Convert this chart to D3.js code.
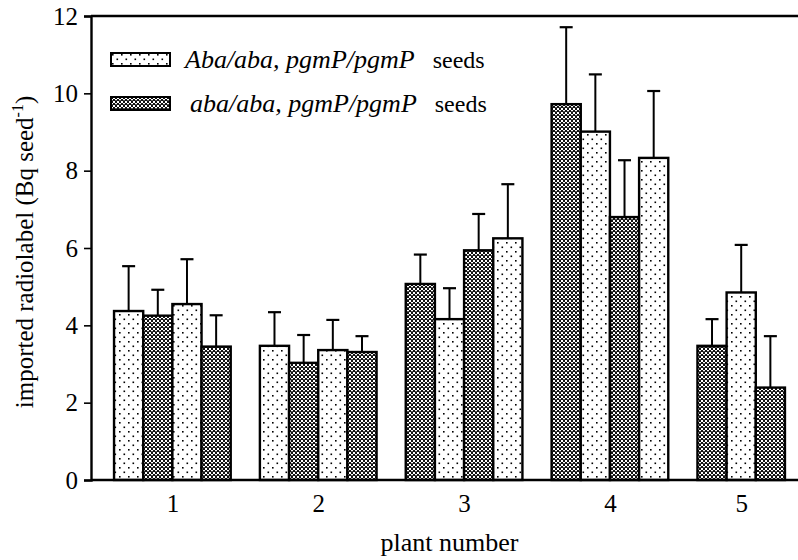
<!DOCTYPE html>
<html>
<head>
<meta charset="utf-8">
<script src="https://cdn.jsdelivr.net/npm/d3@7"></script>
<style>
    body { margin: 0; background: #fff; }
    svg { display: block; }
    svg text { font-family: "Liberation Serif", "Times New Roman", "DejaVu Serif", serif; }
</style>
</head>
<body>
<script>
// plant numbers on the x axis
const plants = ['1', '2', '3', '4', '5'];
const yTicks = [0, 2, 4, 6, 8, 10, 12];

// one entry per bar, left to right
const barPlant = ['1', '1', '1', '1', '2', '2', '2', '2', '3', '3', '3', '3', '4', '4', '4', '4', '5', '5', '5'];
const barGenotype = ['Aba', 'aba', 'Aba', 'aba', 'Aba', 'aba', 'Aba', 'aba',
    'aba', 'Aba', 'aba', 'Aba', 'aba', 'Aba', 'aba', 'Aba', 'aba', 'Aba', 'aba'];
const barMean = [4.37, 4.25, 4.55, 3.45, 3.47, 3.03, 3.36, 3.31,
    5.07, 4.16, 5.94, 6.25, 9.72, 9.01, 6.80, 8.33, 3.47, 4.85, 2.39];
const barTop = [5.53, 4.92, 5.71, 4.26, 4.34, 3.75, 4.14, 3.72,
    5.83, 4.96, 6.88, 7.65, 11.71, 10.49, 8.27, 10.06, 4.16, 6.08, 3.72];

const legendLabels = ['Aba/aba, pgmP/pgmP', 'aba/aba, pgmP/pgmP'];
const legendKeys = ['Aba', 'aba'];

const W = 798, H = 560;
const margin = {left: 91, top: 16, bottom: 80};
const plotH = H - margin.top - margin.bottom;

// each plant gets one slot per bar plus an empty slot as gap
const slotOf = [];
plants.forEach((p, pi) => {
    barPlant.filter(b => b === p).forEach((b, j) => slotOf.push(pi * 5 + j));
});
const nBars = p => barPlant.filter(b => b === p).length;

const x = d3.scaleLinear().domain([-0.79, 23.55]).range([0, 710]);
const y = d3.scaleLinear().domain([0, 12]).range([plotH, 0]);

const svg = d3.select('body').append('svg')
    .attr('width', W)
    .attr('height', H);

const defs = svg.append('defs');

// sparse dots for Aba/aba
const dots = defs.append('pattern')
    .attr('id', 'dots')
    .attr('patternUnits', 'userSpaceOnUse')
    .attr('width', 9).attr('height', 9);
dots.append('rect').attr('width', 9).attr('height', 9).attr('fill', '#fff');
dots.append('rect').attr('x', 1).attr('y', 1).attr('width', 1.6).attr('height', 1.6).attr('fill', '#000');
dots.append('rect').attr('x', 5.5).attr('y', 5.5).attr('width', 1.6).attr('height', 1.6).attr('fill', '#000');

// dense crosshatch for aba/aba
const hatch = defs.append('pattern')
    .attr('id', 'hatch')
    .attr('patternUnits', 'userSpaceOnUse')
    .attr('width', 4).attr('height', 4);
hatch.append('rect').attr('width', 4).attr('height', 4).attr('fill', '#fff');
hatch.append('rect').attr('x', 0).attr('y', 0).attr('width', 2).attr('height', 2).attr('fill', '#111');
hatch.append('rect').attr('x', 2).attr('y', 2).attr('width', 2).attr('height', 2).attr('fill', '#111');
hatch.append('rect').attr('x', 0).attr('y', 3).attr('width', 4).attr('height', 0.7).attr('fill', '#111');

const fillFor = g => g === 'Aba' ? 'url(#dots)' : 'url(#hatch)';

const g = svg.append('g')
    .attr('transform', `translate(${margin.left}, ${margin.top})`);

const bw = x(1) - x(0);

// bars
g.selectAll('rect.bar')
    .data(barMean)
    .enter().append('rect')
    .attr('class', 'bar')
    .attr('x', (d, i) => x(slotOf[i]))
    .attr('y', d => y(d))
    .attr('width', bw)
    .attr('height', d => y(0) - y(d))
    .attr('fill', (d, i) => fillFor(barGenotype[i]))
    .attr('stroke', '#000')
    .attr('stroke-width', 2.4);

// error bars (upper only)
const err = g.selectAll('g.err')
    .data(barTop)
    .enter().append('g')
    .attr('class', 'err')
    .attr('transform', (d, i) => `translate(${x(slotOf[i] + 0.5)}, 0)`);
err.append('line')
    .attr('y1', (d, i) => y(barMean[i]))
    .attr('y2', d => y(d))
    .attr('stroke', '#000').attr('stroke-width', 2);
err.append('line')
    .attr('x1', -6.5).attr('x2', 6.5)
    .attr('y1', d => y(d)).attr('y2', d => y(d))
    .attr('stroke', '#000').attr('stroke-width', 2.2);

// frame line on top
g.append('line')
    .attr('x1', 0).attr('x2', W)
    .attr('y1', y(12)).attr('y2', y(12))
    .attr('stroke', '#000').attr('stroke-width', 2.4);

// x axis
const xAxis = g.append('g')
    .attr('transform', `translate(0, ${y(0)})`)
    .call(d3.axisBottom(x)
        .tickValues(plants.map((p, pi) => pi * 5 + nBars(p) / 2))
        .tickFormat((d, i) => plants[i])
        .tickSize(0)
        .tickPadding(14))
    .attr('font-family', null)
    .attr('font-size', 25);
xAxis.select('.domain').attr('d', `M0,0H${W}`).attr('stroke-width', 2.4);
xAxis.selectAll('text').attr('fill', '#000');

// y axis
const yAxis = g.append('g')
    .call(d3.axisLeft(y)
        .tickValues(yTicks)
        .tickSize(7)
        .tickPadding(6))
    .attr('font-family', null)
    .attr('font-size', 25);
yAxis.select('.domain').attr('stroke-width', 2.4);
yAxis.selectAll('.tick line').attr('stroke-width', 1.6);
yAxis.selectAll('text').attr('fill', '#000');

// axis titles
svg.append('text')
    .attr('x', margin.left + x(11.5))
    .attr('y', 551)
    .attr('text-anchor', 'middle')
    .attr('font-size', 26)
    .text('plant number');

const yTitle = svg.append('text')
    .attr('transform', `translate(33, ${margin.top + plotH / 2 + 4}) rotate(-90)`)
    .attr('text-anchor', 'middle')
    .attr('font-size', 25);
yTitle.append('tspan').text('imported radiolabel (Bq seed');
yTitle.append('tspan').attr('font-size', 16).attr('dy', -10).text('-1');
yTitle.append('tspan').attr('dy', 10).text(')');

// legend
const legend = svg.append('g').attr('transform', 'translate(111, 53)');
const rows = legend.selectAll('g')
    .data(legendKeys)
    .enter().append('g')
    .attr('transform', (d, i) => `translate(0, ${i * 44})`);
rows.append('rect')
    .attr('width', 59).attr('height', 13)
    .attr('fill', d => fillFor(d))
    .attr('stroke', '#000').attr('stroke-width', 2);
const lt = rows.append('text')
    .attr('x', (d, i) => 74 + i * 5)
    .attr('y', 15)
    .attr('font-size', 26);
lt.append('tspan').attr('font-style', 'italic').text((d, i) => legendLabels[i]);
lt.append('tspan').attr('dx', 18).attr('font-size', 24).text('seeds');
</script>
</body>
</html>
